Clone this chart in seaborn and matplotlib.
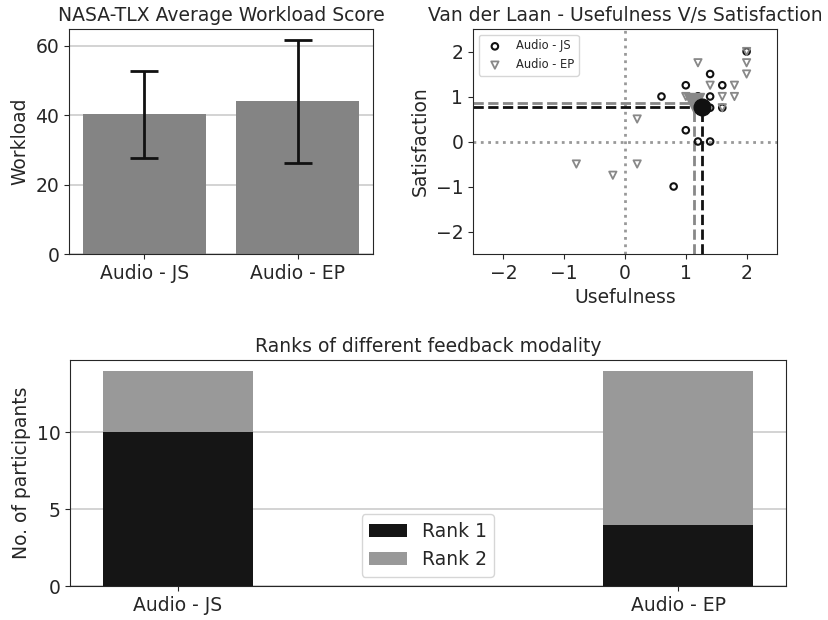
import numpy as np
import pandas as pd
import matplotlib
matplotlib.use("Agg")
import matplotlib.pyplot as plt
import seaborn as sns

conditions = ["Audio - JS", "Audio - EP"]

# NASA-TLX workload
workload_mean = [40.2, 44.0]
workload_sd = [12.6, 17.7]

# Van der Laan scores per participant
js_usefulness = [0.6, 1.0, 1.4, 1.6, 1.2, 1.4, 1.0, 1.2, 1.4, 0.8, 2.0, 1.6, 1.2, 1.4]
js_satisfaction = [1.0, 1.25, 1.5, 1.25, 1.0, 1.0, 0.25, 0.0, 0.0, -1.0, 2.0, 0.75, 1.0, 0.75]
ep_usefulness = [2.0, 2.0, 2.0, 1.2, 1.4, 1.8, 1.6, 1.8, 1.0, 1.6, 0.2, -0.8, -0.2, 0.2]
ep_satisfaction = [2.0, 1.75, 1.5, 1.75, 1.25, 1.25, 1.0, 1.0, 1.0, 0.75, 0.5, -0.5, -0.75, -0.5]

# Rankings
rank1 = [10, 4]
rank2 = [4, 10]

FS = 13.5

sns.set_style("ticks")
plt.rcParams["font.family"] = ["DejaVu Sans"]
plt.rcParams["axes.edgecolor"] = "0.15"

fig = plt.figure(figsize=(8.29, 6.2), dpi=100)
ax1 = fig.add_axes([69 / 829, 1 - 254 / 620, 304 / 829, 225 / 620])
ax2 = fig.add_axes([473 / 829, 1 - 254 / 620, 304 / 829, 225 / 620])
ax3 = fig.add_axes([70 / 829, 1 - 586 / 620, 716 / 829, 226 / 620])

# --- NASA-TLX bar chart
df_w = pd.DataFrame({"cond": conditions, "mean": workload_mean, "sd": workload_sd})
sns.barplot(data=df_w, x="cond", y="mean", color="#848484", saturation=1,
            width=0.8, linewidth=0, ax=ax1, zorder=2)
ax1.errorbar(np.arange(len(conditions)), df_w["mean"], yerr=df_w["sd"],
             fmt="none", ecolor="#111111", elinewidth=2, capsize=10, capthick=2, zorder=3)
ax1.yaxis.grid(True, color="#cccccc", linewidth=1.2, zorder=0)
ax1.set_axisbelow(True)
ax1.set_xlabel("")
ax1.set_ylabel("Workload", fontsize=FS)
ax1.set_title("NASA-TLX Average Workload Score", fontsize=FS)
ax1.tick_params(labelsize=FS)
ax1.set_yticks([0, 20, 40, 60])

# --- Van der Laan scatter
ax2.axhline(0, color="#999999", linestyle=":", linewidth=2, zorder=1)
ax2.axvline(0, color="#999999", linestyle=":", linewidth=2, zorder=1)
sns.scatterplot(x=js_usefulness, y=js_satisfaction, ax=ax2, marker="o", s=22,
                facecolor="none", edgecolor="#111111", linewidth=1.5,
                label="Audio - JS", zorder=3)
sns.scatterplot(x=ep_usefulness, y=ep_satisfaction, ax=ax2, marker="v", s=28,
                facecolor="none", edgecolor="#888888", linewidth=1.3,
                label="Audio - EP", zorder=3)
lo = -2.5
for u, s, col, mk, msz in [(ep_usefulness, ep_satisfaction, "#888888", "v", 14),
                           (js_usefulness, js_satisfaction, "#111111", "o", 12)]:
    mu, ms_ = np.mean(u), np.mean(s)
    ax2.plot([lo, mu], [ms_, ms_], linestyle="--", color=col, linewidth=2, zorder=2)
    ax2.plot([mu, mu], [lo, ms_], linestyle="--", color=col, linewidth=2, zorder=2)
    ax2.plot(mu, ms_, marker=mk, color=col, markersize=msz, linestyle="none", zorder=4)
ax2.set_xlim(-2.5, 2.5)
ax2.set_ylim(-2.5, 2.5)
ax2.set_xticks([-2, -1, 0, 1, 2])
ax2.set_yticks([-2, -1, 0, 1, 2])
ax2.tick_params(labelsize=FS)
ax2.set_xlabel("Usefulness", fontsize=FS)
ax2.set_ylabel("Satisfaction", fontsize=FS)
ax2.set_title("Van der Laan - Usefulness V/s Satisfaction", fontsize=FS)
ax2.legend(loc="upper left", fontsize=8.3, frameon=True)

# --- Ranks stacked bar
df_r = pd.DataFrame({"cond": conditions, "rank1": rank1,
                     "total": np.array(rank1) + np.array(rank2)})
sns.barplot(data=df_r, x="cond", y="total", color="#999999", saturation=1,
            width=0.3, linewidth=0, ax=ax3, label="Rank 2", zorder=2)
sns.barplot(data=df_r, x="cond", y="rank1", color="#151515", saturation=1,
            width=0.3, linewidth=0, ax=ax3, label="Rank 1", zorder=3)
ax3.yaxis.grid(True, color="#cccccc", linewidth=1.2, zorder=0)
ax3.set_axisbelow(True)
ax3.set_xlim(-0.215, 1.215)
ax3.set_ylim(0, 14.7)
ax3.set_yticks([0, 5, 10])
ax3.set_xlabel("")
ax3.set_ylabel("No. of participants", fontsize=FS)
ax3.set_title("Ranks of different feedback modality", fontsize=FS)
ax3.tick_params(labelsize=FS)
h, l = ax3.get_legend_handles_labels()
ax3.legend([h[1], h[0]], [l[1], l[0]], loc="lower center", fontsize=FS)

fig.savefig("out.png", dpi=100)
